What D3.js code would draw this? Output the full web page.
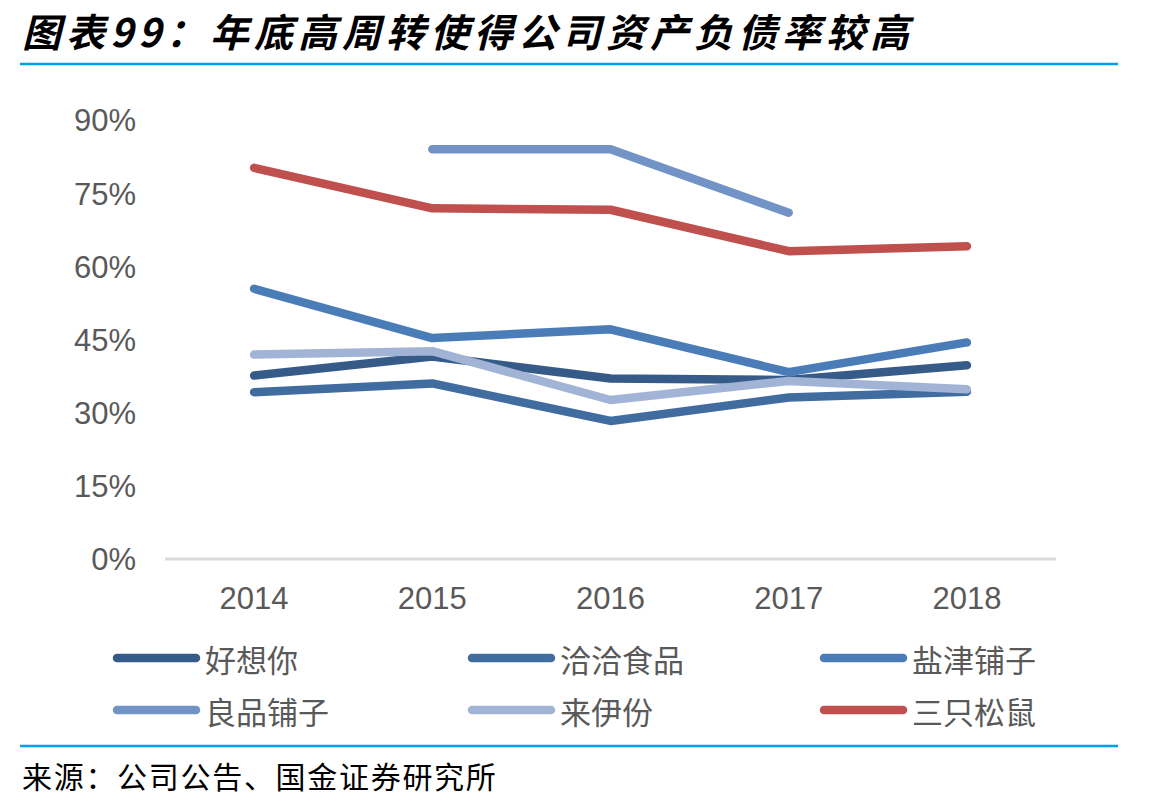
<!DOCTYPE html>
<html>
<head>
<meta charset="utf-8">
<script src="https://cdn.jsdelivr.net/npm/d3@7"></script>
<style>
  body { margin: 0; background: #fff; }
  svg { display: block; }
</style>
</head>
<body>
<svg id="chart"></svg>
<script>
var years = ["2014", "2015", "2016", "2017", "2018"];
var yTicks = [0, 0.15, 0.3, 0.45, 0.6, 0.75, 0.9];
var seriesNames = ["好想你", "洽洽食品", "盐津铺子", "良品铺子", "来伊份", "三只松鼠"];
var seriesColors = ["#375b88", "#416ca0", "#4a7cb8", "#7293c6", "#a2b4d6", "#c0504d"];
var haoxiangni = [0.376, 0.415, 0.370, 0.367, 0.397];
var qiaqia = [0.342, 0.360, 0.283, 0.331, 0.343];
var yanjin = [0.554, 0.453, 0.471, 0.383, 0.444];
var liangpin = [null, 0.840, 0.840, 0.710, null];
var laiyifen = [0.419, 0.426, 0.326, 0.365, 0.348];
var songshu = [0.802, 0.719, 0.716, 0.631, 0.641];
var allSeries = [haoxiangni, qiaqia, yanjin, liangpin, laiyifen, songshu];

var width = 1167;
var height = 808;
var svg = d3.select("#chart").attr("width", width).attr("height", height);

// title
svg.append("text")
  .attr("x", 22)
  .attr("y", 47)
  .style("font-family", "'Noto Sans CJK SC', sans-serif")
  .style("font-size", "39px")
  .style("font-weight", "bold")
  .style("font-style", "italic")
  .style("letter-spacing", "5px")
  .style("fill", "#000")
  .text("图表99：年底高周转使得公司资产负债率较高");

svg.append("line")
  .attr("x1", 20).attr("x2", 1118)
  .attr("y1", 64).attr("y2", 64)
  .style("stroke", "#00a0e9")
  .style("stroke-width", 2.5);

var xScale = d3.scaleBand()
  .domain(years)
  .range([165, 1056]);

var yScale = d3.scaleLinear()
  .domain([0, 0.9])
  .range([559, 120]);

// y labels
var yAxis = d3.axisLeft(yScale)
  .tickValues(yTicks)
  .tickFormat(d3.format(".0%"))
  .tickSize(0)
  .tickPadding(0);

var gy = svg.append("g")
  .attr("transform", "translate(136,1)")
  .call(yAxis);
gy.select(".domain").remove();
gy.selectAll("text")
  .style("font-family", "'Liberation Sans', Arial, sans-serif")
  .style("font-size", "31px")
  .style("fill", "#595959");

// x axis
var xAxis = d3.axisBottom(xScale).tickSize(0).tickPadding(0);
var gx = svg.append("g")
  .attr("transform", "translate(0,587)")
  .call(xAxis);
gx.select(".domain").remove();
gx.selectAll("text")
  .style("font-family", "'Liberation Sans', Arial, sans-serif")
  .style("font-size", "31px")
  .style("fill", "#595959");

svg.append("line")
  .attr("x1", 165).attr("x2", 1056)
  .attr("y1", yScale(0)).attr("y2", yScale(0))
  .style("stroke", "#d9d9d9")
  .style("stroke-width", 3);

// lines
var line = d3.line()
  .defined(function (d) { return d != null; })
  .x(function (d, i) { return xScale(years[i]) + xScale.bandwidth() / 2; })
  .y(function (d) { return yScale(d); });

for (var i = 0; i < allSeries.length; i++) {
  svg.append("path")
    .datum(allSeries[i])
    .attr("d", line)
    .style("fill", "none")
    .style("stroke", seriesColors[i])
    .style("stroke-width", 8.5)
    .style("stroke-linecap", "round")
    .style("stroke-linejoin", "round");
}

// legend
var legendX = [113, 468, 820];
var legendY = [658, 710];
for (var i = 0; i < seriesNames.length; i++) {
  var lx = legendX[i % 3];
  var ly = legendY[Math.floor(i / 3)];
  svg.append("line")
    .attr("x1", lx + 4).attr("x2", lx + 83)
    .attr("y1", ly).attr("y2", ly)
    .style("stroke", seriesColors[i])
    .style("stroke-width", 8.5)
    .style("stroke-linecap", "round");
  svg.append("text")
    .attr("x", lx + 92)
    .attr("y", ly)
    .attr("dominant-baseline", "central")
    .style("font-family", "'Noto Sans CJK SC', sans-serif")
    .style("font-size", "31px")
    .style("fill", "#595959")
    .text(seriesNames[i]);
}

svg.append("line")
  .attr("x1", 20).attr("x2", 1118)
  .attr("y1", 746).attr("y2", 746)
  .style("stroke", "#00a0e9")
  .style("stroke-width", 2.5);

svg.append("text")
  .attr("x", 22)
  .attr("y", 788)
  .style("font-family", "'Noto Sans CJK SC', sans-serif")
  .style("font-size", "30px")
  .style("letter-spacing", "1.7px")
  .style("fill", "#000")
  .text("来源：公司公告、国金证券研究所");
</script>
</body>
</html>
